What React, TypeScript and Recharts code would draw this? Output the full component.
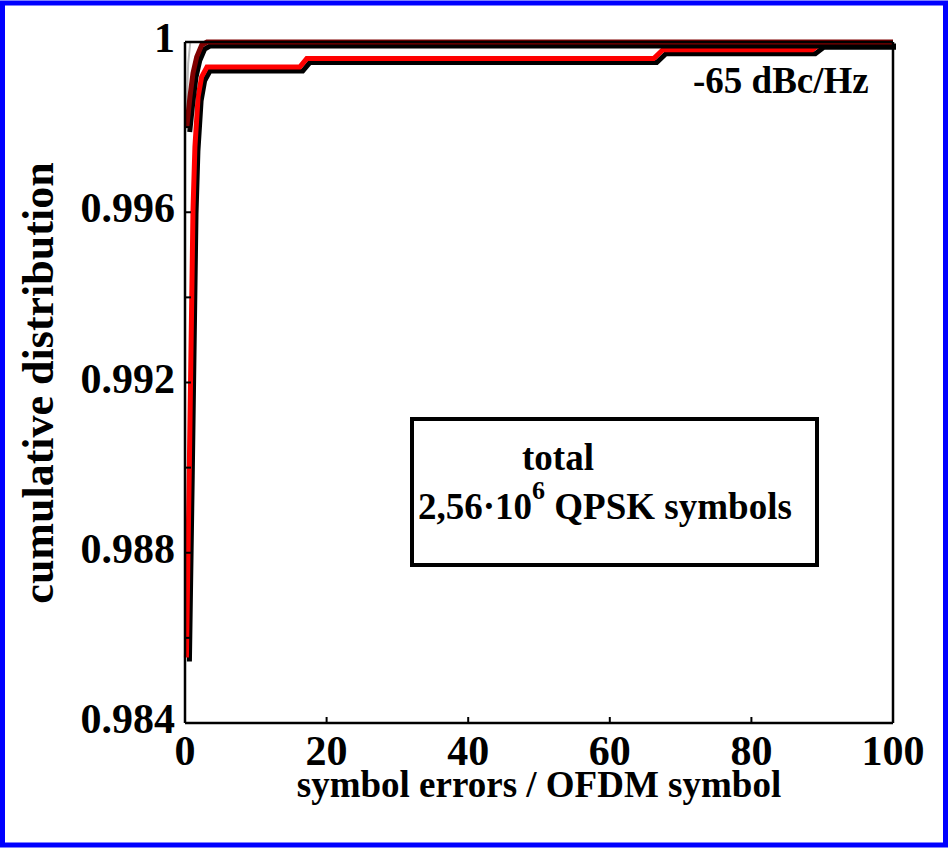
import React from 'react';
import { LineChart, Line, XAxis, YAxis } from 'recharts';

// Red curve (colored line)
const redX = [0.2, 0.6, 1.13, 1.4, 1.85, 2.35, 3.1, 16.2, 17.2, 66.2, 67.5, 88.6, 89.8, 100];
const redY = [0.98554, 0.9899, 0.99605, 0.99753, 0.99871, 0.99918, 0.99941, 0.99941, 0.99961, 0.99961, 0.99982, 0.99982, 0.99997, 0.99997];

// Dark red curve
const darkRedX = [0.24, 0.7, 1.13, 1.65, 2.36, 3.1, 100];
const darkRedY = [0.99798, 0.99871, 0.99927, 0.99965, 0.99993, 1.0, 1.0];

// Faint grey curve
const greyX = [0.2, 0.45, 0.75];
const greyY = [0.9983, 0.9995, 1.0];

const xTicks = [0, 20, 40, 60, 80, 100];
const yTicks = [0.984, 0.986, 0.988, 0.99, 0.992, 0.994, 0.996, 0.998, 1];
const yLabelTicks = [0.984, 0.988, 0.992, 0.996, 1];

const xTitle = 'symbol errors / OFDM symbol';
const yTitle = 'cumulative distribution';
const noteText = '-65 dBc/Hz';
const boxLine1 = 'total';

const toPoints = (xs: number[], ys: number[]) => xs.map((x, i) => ({ x, y: ys[i] }));

const FONT = "'Liberation Serif', 'Times New Roman', serif";
const axisLine = { stroke: '#000', strokeWidth: 2.5 };
const tickLine = { stroke: '#000', strokeWidth: 2 };

const fmtY = (v: number) => (yLabelTicks.includes(v) ? (v === 1 ? '1' : String(v)) : '');

const XTick = (props: any) => {
  const { x, payload } = props;
  return (
    <text x={x} y={765} textAnchor="middle" fontFamily={FONT} fontWeight="bold" fontSize={42} fill="#000">
      {payload.value}
    </text>
  );
};

const YTick = (props: any) => {
  const { y, payload } = props;
  const label = fmtY(payload.value);
  if (!label) return <g />;
  return (
    <text x={175} y={y + 10} textAnchor="end" fontFamily={FONT} fontWeight="bold" fontSize={42} fill="#000">
      {label}
    </text>
  );
};

export default function App() {
  const red = toPoints(redX, redY);
  const darkRed = toPoints(darkRedX, darkRedY);
  const grey = toPoints(greyX, greyY);
  return (
    <div style={{ position: 'absolute', left: 0, top: 0, width: 949, height: 848, background: '#fff' }}>
      <style>{`.shadow-line{transform:translate(3px,4px);}`}</style>
      <LineChart width={949} height={848} margin={{ top: 41, right: 55, bottom: 0, left: 0 }}>
        <XAxis
          xAxisId="b"
          type="number"
          dataKey="x"
          domain={[0, 100]}
          ticks={xTicks}
          interval={0}
          height={125}
          tickSize={-6}
          axisLine={axisLine}
          tickLine={tickLine}
          tick={<XTick />}
        />
        <XAxis
          xAxisId="t"
          orientation="top"
          type="number"
          dataKey="x"
          domain={[0, 100]}
          ticks={xTicks}
          interval={0}
          height={1}
          tickSize={-6}
          axisLine={axisLine}
          tickLine={tickLine}
          tickFormatter={() => ''}
        />
        <YAxis
          yAxisId="l"
          type="number"
          domain={[0.984, 1]}
          ticks={yTicks}
          interval={0}
          width={185}
          tickSize={-6}
          axisLine={axisLine}
          tickLine={tickLine}
          tick={<YTick />}
        />
        <YAxis
          yAxisId="r"
          orientation="right"
          type="number"
          domain={[0.984, 1]}
          ticks={yTicks}
          interval={0}
          width={1}
          tickSize={-6}
          axisLine={axisLine}
          tickLine={tickLine}
          tickFormatter={() => ''}
        />
        <Line xAxisId="b" yAxisId="l" data={grey} dataKey="y" stroke="#b8b8b8" strokeWidth={2} dot={false} isAnimationActive={false} />
        <Line xAxisId="b" yAxisId="l" data={red} dataKey="y" stroke="#000" strokeWidth={5} dot={false} className="shadow-line" isAnimationActive={false} />
        <Line xAxisId="b" yAxisId="l" data={red} dataKey="y" stroke="#ff0000" strokeWidth={5} dot={false} isAnimationActive={false} />
        <Line xAxisId="b" yAxisId="l" data={darkRed} dataKey="y" stroke="#000" strokeWidth={5} dot={false} className="shadow-line" isAnimationActive={false} />
        <Line xAxisId="b" yAxisId="l" data={darkRed} dataKey="y" stroke="#800000" strokeWidth={5} dot={false} isAnimationActive={false} />
      </LineChart>
      <svg width={949} height={848} style={{ position: 'absolute', left: 0, top: 0, pointerEvents: 'none' }}>
        <rect x={2.5} y={3} width={943} height={842} fill="none" stroke="#0000ff" strokeWidth={5} />
        <text x={539} y={797} textAnchor="middle" fontFamily={FONT} fontWeight="bold" fontSize={37} fill="#000">{xTitle}</text>
        <text x={0} y={0} transform="translate(53,383) rotate(-90)" textAnchor="middle" fontFamily={FONT} fontWeight="bold" fontSize={44} fill="#000">{yTitle}</text>
        <text x={693} y={93} fontFamily={FONT} fontWeight="bold" fontSize={37} fill="#000">{noteText}</text>
        <rect x={412} y={419} width={405} height={146} fill="#fff" stroke="#000" strokeWidth={4} />
        <text x={558} y={470} textAnchor="middle" fontFamily={FONT} fontWeight="bold" fontSize={37} fill="#000">{boxLine1}</text>
        <text x={418} y={519} fontFamily={FONT} fontWeight="bold" fontSize={37} fill="#000">
          2,56·10<tspan dy={-20} fontSize={26}>6</tspan><tspan dy={20}> QPSK symbols</tspan>
        </text>
      </svg>
    </div>
  );
}
